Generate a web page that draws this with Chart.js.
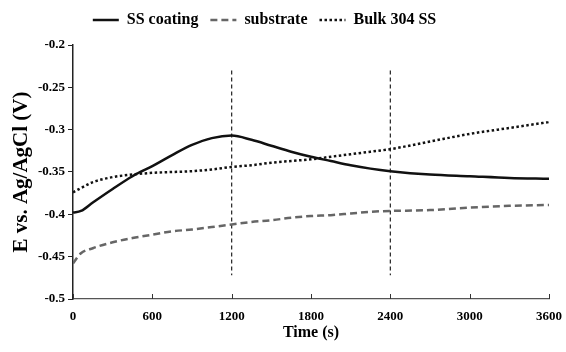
<!DOCTYPE html>
<html>
<head>
<meta charset="utf-8">
<script src="https://cdn.jsdelivr.net/npm/chart.js@4.4.1/dist/chart.umd.min.js"></script>
<style>
  html, body { margin: 0; padding: 0; background: #fff; }
  #wrap { width: 566px; height: 352px; position: relative; }
</style>
</head>
<body>
<div id="wrap"><canvas id="chart"></canvas></div>
<script>
  // time axis (s) and measured potentials (V vs Ag/AgCl)
  const times = [0, 60, 150, 300, 450, 600, 750, 900, 1050, 1200, 1350, 1500, 1650, 1800, 1950, 2100, 2250, 2400, 2700, 3000, 3300, 3600];
  const ssCoating = [-0.398, -0.396, -0.386, -0.370, -0.355, -0.343, -0.330, -0.318, -0.310, -0.307, -0.312, -0.319, -0.326, -0.332, -0.337, -0.342, -0.346, -0.349, -0.353, -0.355, -0.357, -0.358];
  const substrate = [-0.458, -0.446, -0.440, -0.433, -0.428, -0.424, -0.420, -0.418, -0.415, -0.412, -0.409, -0.407, -0.404, -0.402, -0.401, -0.399, -0.397, -0.396, -0.395, -0.392, -0.390, -0.389];
  const bulk304 = [-0.374, -0.369, -0.362, -0.356, -0.353, -0.351, -0.350, -0.349, -0.347, -0.344, -0.342, -0.339, -0.337, -0.335, -0.332, -0.329, -0.326, -0.323, -0.314, -0.305, -0.298, -0.291];
  const seriesNames = ["SS coating", "substrate", "Bulk 304 SS"];
  const xTicks = [0, 600, 1200, 1800, 2400, 3000, 3600];
  const yTicks = [-0.5, -0.45, -0.4, -0.35, -0.3, -0.25, -0.2];
  const markerTimes = [1200, 2400];
  const markerRange = [-0.23, -0.472];

  const serif = "'Liberation Serif', 'Times New Roman', serif";
  const pts = (arr) => arr.map((v, i) => ({ x: times[i], y: v }));

  const lineBase = { pointRadius: 0, pointStyle: "line", borderWidth: 2.5, cubicInterpolationMode: "monotone", fill: false };
  const datasets = [
    { ...lineBase, label: seriesNames[0], data: pts(ssCoating), borderColor: "#111" },
    { ...lineBase, label: seriesNames[1], data: pts(substrate), borderColor: "#666", borderDash: [7, 4] },
    { ...lineBase, label: seriesNames[2], data: pts(bulk304), borderColor: "#111", borderDash: [2.5, 2.5] },
  ];
  markerTimes.forEach((t) => {
    datasets.push({
      label: "marker", data: markerRange.map((y) => ({ x: t, y })),
      borderColor: "#222", borderWidth: 1.2, borderDash: [4, 3], pointRadius: 0, tension: 0,
    });
  });

  // small tick marks pointing up from the time axis
  const innerTicks = {
    id: "innerTicks",
    afterDraw(chart) {
      const sx = chart.scales.x;
      const ctx = chart.ctx;
      ctx.save();
      ctx.strokeStyle = "#333";
      ctx.lineWidth = 1;
      xTicks.forEach((t) => {
        const px = Math.round(sx.getPixelForValue(t)) + 0.5;
        ctx.beginPath();
        ctx.moveTo(px, sx.top);
        ctx.lineTo(px, sx.top - 5);
        ctx.stroke();
      });
      ctx.restore();
    },
  };

  // legend samples keep each series' dash pattern
  function legendLabels(chart) {
    const items = Chart.defaults.plugins.legend.labels.generateLabels(chart);
    return items.filter((it) => it.datasetIndex < 3).map((it) => {
      const ds = chart.data.datasets[it.datasetIndex];
      return { ...it, lineDash: ds.borderDash || [], lineWidth: 2.5, strokeStyle: ds.borderColor, pointStyle: "line" };
    });
  }

  const chart = new Chart(document.getElementById("chart"), {
    type: "line",
    data: { datasets },
    plugins: [innerTicks],
    options: {
      responsive: true, maintainAspectRatio: false, animation: false,
      layout: { padding: { top: 0, right: 5, bottom: 8, left: 4 } },
      plugins: {
        tooltip: { enabled: false },
        legend: {
          position: "top",
          labels: {
            generateLabels: legendLabels,
            usePointStyle: true, pointStyleWidth: 26, boxHeight: 10,
            color: "#000", padding: 12,
            font: { family: serif, size: 16, weight: "bold" },
          },
        },
      },
      scales: {
        x: {
          type: "linear", min: 0, max: 3600,
          afterBuildTicks: (s) => { s.ticks = xTicks.map((v) => ({ value: v })); },
          afterFit: (s) => { s.height = 45; },
          ticks: { color: "#000", padding: 4, maxRotation: 0, callback: (v) => String(v), font: { family: serif, size: 13, weight: "bold" } },
          grid: { drawOnChartArea: false, drawTicks: true, tickLength: 6, color: "rgba(0,0,0,0)" },
          border: { display: true, color: "#555", width: 1.2 },
          title: { display: true, text: "Time (s)", color: "#000", padding: { top: 2, bottom: 2 }, font: { family: serif, size: 16, weight: "bold" } },
        },
        y: {
          min: -0.5, max: -0.2,
          afterBuildTicks: (s) => { s.ticks = yTicks.map((v) => ({ value: v })); },
          afterFit: (s) => { s.width = 69; },
          ticks: { color: "#000", padding: 3, callback: (v) => String(+v.toFixed(2)), font: { family: serif, size: 13, weight: "bold" } },
          grid: { drawOnChartArea: false, tickLength: 5, color: "#222" },
          border: { display: true, color: "#222", width: 1.5 },
          title: { display: true, text: "E vs. Ag/AgCl (V)", color: "#000", padding: { top: 5, bottom: 4 }, font: { family: serif, size: 21, weight: "bold" } },
        },
      },
    },
  });

  // keep the legend row high but leave the plot top where it was
  const fitLegend = chart.legend.fit;
  chart.legend.fit = function () {
    fitLegend.call(this);
    this.height += 7;
  };
  // the legend row sits a little left of the page centre
  const drawLegend = chart.legend.draw;
  chart.legend.draw = function () {
    this.right -= 36;
    drawLegend.call(this);
    this.right += 36;
  };
  chart.update();
</script>
</body>
</html>
